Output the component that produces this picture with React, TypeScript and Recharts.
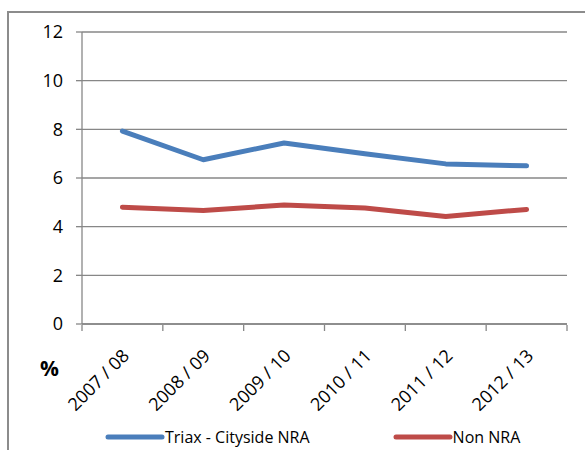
import React from 'react';
import { LineChart, Line, XAxis, YAxis, CartesianGrid, Legend } from 'recharts';

const categories = ['2007 / 08', '2008 / 09', '2009 / 10', '2010 / 11', '2011 / 12', '2012 / 13'];
const triaxValues = [7.93, 6.75, 7.44, 7.0, 6.58, 6.5];
const nonNraValues = [4.8, 4.66, 4.89, 4.77, 4.42, 4.71];
const yTicks = [0, 2, 4, 6, 8, 10, 12];
const seriesNames = ['Triax - Cityside NRA', 'Non NRA'];

const data = categories.map((label, i) => ({
  label,
  triax: triaxValues[i],
  nonNra: nonNraValues[i],
}));

const W = 585;
const H = 450;
const margin = { top: 32, right: 18, bottom: 0, left: 0 };
const Y_AXIS_W = 82;
const X_AXIS_H = 104;
const band = (W - Y_AXIS_W - margin.right) / categories.length;
const FONT = '"Open Sans", "Liberation Sans", sans-serif';
const GRID = '#878787';

function XTick(props: any) {
  const { x, y, payload, index } = props;
  const top = y - 7;
  const tx = x + 8;
  const ty = y + 25;
  return (
    <g>
      <line x1={x - band / 2} y1={top} x2={x - band / 2} y2={top + 6} stroke={GRID} strokeWidth={1.3} />
      {index === categories.length - 1 && (
        <line x1={x + band / 2} y1={top} x2={x + band / 2} y2={top + 6} stroke={GRID} strokeWidth={1.3} />
      )}
      <text
        x={tx} y={ty} textAnchor="end" fill="#000" fontSize={18} fontFamily={FONT}
        transform={`rotate(-45, ${tx}, ${ty})`}
      >
        {payload.value}
      </text>
    </g>
  );
}

function LegendContent({ payload }: any) {
  const items = [...(payload || [])].sort(
    (a: any, b: any) => seriesNames.indexOf(a.value) - seriesNames.indexOf(b.value)
  );
  return (
    <div style={{ display: 'flex', fontFamily: FONT, fontSize: 16, color: '#000' }}>
      {items.map((p: any, i: number) => (
        <div key={p.value} style={{ display: 'flex', alignItems: 'center', marginLeft: i === 0 ? 0 : 83 }}>
          <svg width={60} height={10}>
            <line x1={3} y1={5} x2={57} y2={5} stroke={p.color} strokeWidth={5} strokeLinecap="round" />
          </svg>
          <span>{p.value}</span>
        </div>
      ))}
    </div>
  );
}

export default function App() {
  return (
    <div style={{ position: 'absolute', left: 0, top: 0, width: W, height: H, overflow: 'hidden', background: '#fff' }}>
      <div style={{ position: 'absolute', left: 7, top: 11, width: 700, height: 600, border: '2px solid #8c8c8c' }} />
      <div style={{ position: 'absolute', left: 0, top: 0 }}>
        <LineChart width={W} height={H} data={data} margin={margin}>
          <CartesianGrid vertical={false} stroke={GRID} strokeWidth={1.3} />
          <XAxis
            dataKey="label" scale="band" axisLine={{ stroke: GRID, strokeWidth: 1.3 }}
            tickLine={false} interval={0} tick={<XTick />} height={X_AXIS_H}
          />
          <YAxis
            domain={[0, 12]} ticks={yTicks} interval={0} axisLine={{ stroke: GRID, strokeWidth: 1.3 }}
            tickLine={{ stroke: GRID, strokeWidth: 1.3 }} tickSize={6} tickMargin={13}
            tick={{ fill: '#000', fontSize: 18, fontFamily: FONT }} width={Y_AXIS_W}
          />
          <Legend
            content={<LegendContent />}
            wrapperStyle={{ position: 'absolute', left: 105, top: 426, width: 480 }}
          />
          <Line
            type="linear" dataKey="triax" name={seriesNames[0]} stroke="#4A7EBB"
            strokeWidth={5} dot={false} strokeLinecap="round" strokeLinejoin="round" isAnimationActive={false}
          />
          <Line
            type="linear" dataKey="nonNra" name={seriesNames[1]} stroke="#BE4B48"
            strokeWidth={5} dot={false} strokeLinecap="round" strokeLinejoin="round" isAnimationActive={false}
          />
        </LineChart>
      </div>
      <div style={{ position: 'absolute', left: 40, top: 354, fontFamily: FONT, fontWeight: 700, fontSize: 21 }}>%</div>
    </div>
  );
}
